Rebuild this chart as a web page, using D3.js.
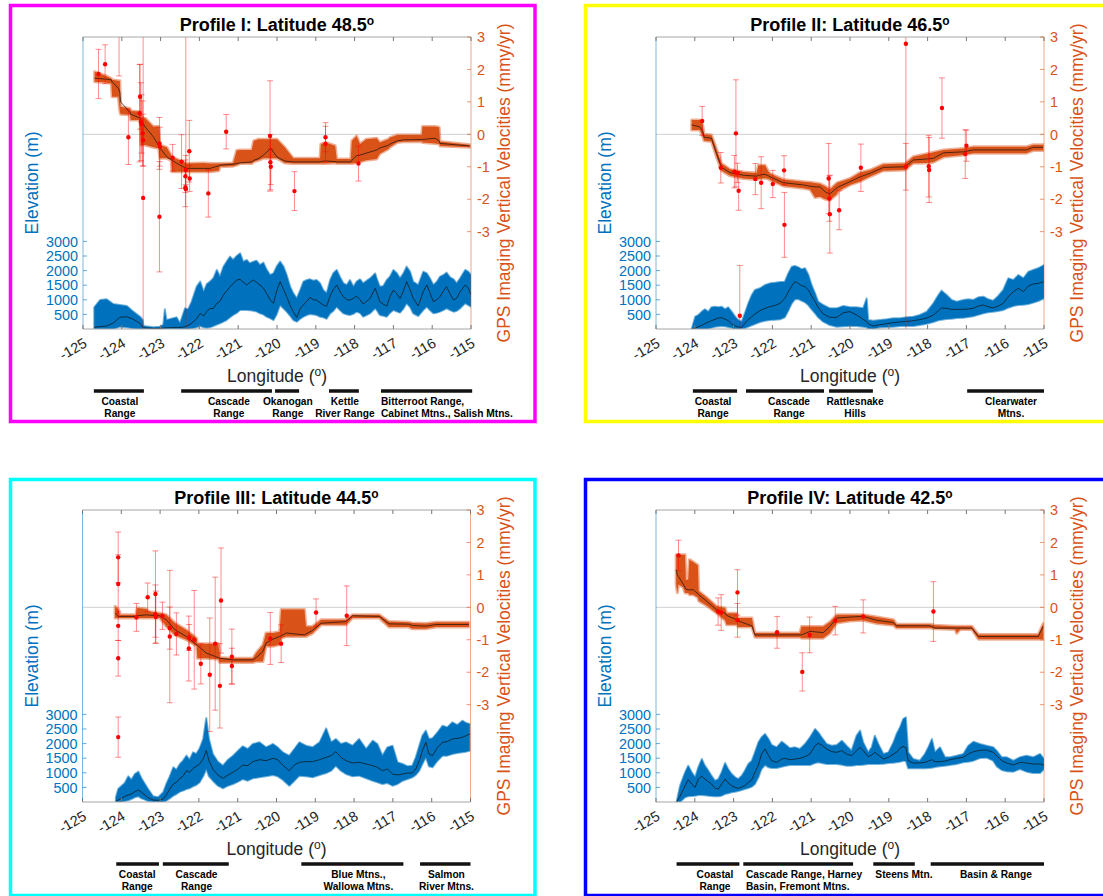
<!DOCTYPE html>
<html>
<head>
<meta charset="utf-8">
<script src="https://cdn.jsdelivr.net/npm/d3@7"></script>
<style>
  body { margin: 0; background: #fff; }
  svg text { font-family: "Liberation Sans", Arial, Helvetica, sans-serif; }
</style>
</head>
<body>
<svg id="fig" width="1103" height="896"></svg>
<script>
// ticks shared by all four profiles
const lonTicks = [-125, -124, -123, -122, -121, -120, -119, -118, -117, -116, -115];
const elevTicks = [500, 1000, 1500, 2000, 2500, 3000];
const velTicks = [-3, -2, -1, 0, 1, 2, 3];

// velocity band rows: longitude, low, mean, high (mm/yr)
const velocityI = [
  [-124.70, 1.62, 1.73, 1.93], [-124.40, 1.60, 1.70, 1.80], [-124.27, 1.56, 1.68, 1.72],
  [-124.25, 1.16, 1.62, 1.68], [-124.09, 1.16, 1.42, 1.65], [-124.05, 0.70, 1.30, 1.65],
  [-124.03, 0.62, 1.00, 0.85], [-123.79, 0.60, 0.68, 0.80], [-123.77, 0.44, 0.62, 0.72],
  [-123.53, 0.44, 0.50, 0.70], [-123.51, -0.33, 0.45, 0.52], [-123.40, -0.33, 0.23, 0.50],
  [-123.19, -0.40, -0.07, 0.24], [-123.05, -0.43, -0.35, 0.24], [-123.02, -0.74, -0.42, -0.33],
  [-122.84, -0.74, -0.69, -0.40], [-122.73, -0.80, -0.78, -0.64], [-122.71, -1.15, -0.80, -0.70],
  [-122.50, -1.15, -0.95, -0.80], [-122.33, -1.15, -1.05, -0.90], [-121.90, -1.15, -1.05, -0.88],
  [-121.73, -1.15, -1.05, -0.90], [-121.50, -1.12, -0.97, -0.90], [-121.47, -1.00, -0.95, -0.90],
  [-121.13, -0.98, -0.92, -0.88], [-121.04, -0.95, -0.90, -0.50], [-120.95, -0.90, -0.88, -0.48],
  [-120.65, -0.90, -0.85, -0.48], [-120.60, -0.85, -0.80, -0.20], [-120.48, -0.80, -0.75, -0.15],
  [-120.35, -0.74, -0.64, -0.15], [-120.16, -0.74, -0.43, -0.15], [-120.00, -0.74, -0.70, -0.15],
  [-119.80, -0.88, -0.82, -0.40], [-119.58, -0.90, -0.85, -0.74], [-118.89, -0.90, -0.85, -0.74],
  [-118.87, -0.90, -0.84, -0.30], [-118.75, -0.90, -0.82, -0.25], [-118.50, -0.88, -0.84, -0.35],
  [-118.46, -0.90, -0.85, -0.76], [-118.10, -0.90, -0.85, -0.76], [-118.07, -0.90, -0.80, -0.20],
  [-117.95, -0.88, -0.66, -0.05], [-117.86, -0.85, -0.64, -0.30], [-117.70, -0.80, -0.58, -0.15],
  [-117.43, -0.76, -0.48, -0.12], [-117.35, -0.60, -0.42, -0.25], [-117.13, -0.45, -0.34, -0.15],
  [-117.09, -0.40, -0.30, -0.10], [-116.90, -0.25, -0.20, -0.02], [-116.74, -0.23, -0.17, -0.02],
  [-116.27, -0.22, -0.16, -0.02], [-116.25, -0.25, -0.16, 0.24], [-115.93, -0.28, -0.12, 0.24],
  [-115.82, -0.30, -0.20, 0.22], [-115.80, -0.36, -0.28, -0.22], [-115.03, -0.40, -0.36, -0.32]
];
const velocityII = [
  [-124.08, 0.13, 0.29, 0.44], [-123.87, 0.13, 0.23, 0.44], [-123.80, -0.05, 0.10, 0.30],
  [-123.76, -0.20, -0.09, 0.00], [-123.57, -0.22, -0.12, -0.02], [-123.44, -0.70, -0.59, -0.45],
  [-123.31, -1.12, -1.02, -0.90], [-123.09, -1.28, -1.18, -1.08], [-122.75, -1.36, -1.26, -1.16],
  [-122.41, -1.39, -1.29, -1.19], [-122.36, -1.38, -1.26, -0.95], [-122.19, -1.35, -1.23, -0.95],
  [-122.10, -1.38, -1.28, -1.15], [-122.06, -1.41, -1.31, -1.21], [-121.72, -1.59, -1.49, -1.39],
  [-121.20, -1.66, -1.56, -1.46], [-121.03, -1.70, -1.60, -1.48], [-120.90, -1.95, -1.62, -1.50],
  [-120.77, -1.92, -1.62, -1.52], [-120.64, -2.00, -1.77, -1.60], [-120.52, -2.03, -1.84, -1.70],
  [-120.34, -1.85, -1.65, -1.50], [-120.30, -1.75, -1.62, -1.48], [-120.00, -1.56, -1.46, -1.36],
  [-119.74, -1.45, -1.31, -1.18], [-119.48, -1.30, -1.20, -1.10], [-119.14, -1.12, -1.02, -0.92],
  [-118.58, -1.10, -1.00, -0.90], [-118.37, -0.89, -0.79, -0.69], [-118.02, -0.88, -0.76, -0.60],
  [-117.85, -0.86, -0.74, -0.55], [-117.59, -0.70, -0.57, -0.48], [-117.08, -0.64, -0.54, -0.44],
  [-116.82, -0.58, -0.48, -0.38], [-115.45, -0.58, -0.48, -0.38], [-115.28, -0.50, -0.40, -0.32],
  [-115.02, -0.50, -0.40, -0.32]
];
const velocityIII = [
  [-124.16, -0.33, -0.18, 0.03], [-124.08, -0.33, -0.28, -0.05], [-124.04, -0.33, -0.28, -0.23],
  [-123.62, -0.33, -0.28, -0.23], [-123.59, -0.33, -0.26, -0.02], [-123.35, -0.33, -0.23, -0.05],
  [-123.30, -0.33, -0.24, -0.13], [-123.01, -0.33, -0.26, -0.18], [-122.84, -0.59, -0.38, -0.23],
  [-122.62, -0.85, -0.69, -0.48], [-122.32, -1.00, -0.90, -0.70], [-122.06, -1.20, -1.15, -0.95],
  [-122.04, -1.57, -1.17, -1.12], [-121.81, -1.57, -1.41, -1.12], [-121.50, -1.60, -1.55, -1.12],
  [-121.46, -1.70, -1.57, -1.55], [-121.12, -1.70, -1.62, -1.57], [-120.61, -1.70, -1.62, -1.57],
  [-120.52, -1.67, -1.55, -1.40], [-120.35, -1.67, -1.36, -1.15], [-120.27, -1.20, -1.10, -0.79],
  [-120.09, -1.20, -0.98, -0.79], [-119.92, -1.15, -0.90, -0.75], [-119.88, -0.95, -0.88, -0.07],
  [-119.75, -0.90, -0.79, -0.07], [-119.28, -0.90, -0.85, -0.07], [-119.24, -0.90, -0.82, -0.59],
  [-119.07, -0.80, -0.71, -0.59], [-118.85, -0.54, -0.49, -0.38], [-118.21, -0.54, -0.44, -0.38],
  [-118.04, -0.33, -0.26, -0.23], [-117.35, -0.33, -0.28, -0.23], [-117.10, -0.61, -0.51, -0.44],
  [-116.60, -0.61, -0.52, -0.46], [-116.50, -0.66, -0.56, -0.48], [-116.15, -0.66, -0.58, -0.50],
  [-115.89, -0.61, -0.53, -0.46], [-115.04, -0.61, -0.53, -0.46]
];
const velocityIV = [
  [-124.48, 0.70, 1.16, 1.62], [-124.45, 0.45, 1.00, 1.62], [-124.42, 0.70, 0.95, 1.62],
  [-124.30, 0.62, 0.72, 1.62], [-124.25, 0.44, 0.60, 1.62], [-124.23, 0.44, 0.56, 0.85],
  [-124.17, 0.44, 0.54, 0.85], [-124.14, 0.39, 0.54, 1.47], [-124.04, 0.39, 0.54, 1.40],
  [-123.92, 0.30, 0.42, 1.30], [-123.90, 0.20, 0.39, 0.50], [-123.69, 0.05, 0.18, 0.30],
  [-123.44, -0.18, -0.07, 0.03], [-123.22, -0.40, -0.18, -0.02], [-123.18, -0.54, -0.25, -0.18],
  [-122.92, -0.54, -0.38, -0.18], [-122.88, -0.61, -0.42, -0.33], [-122.53, -0.61, -0.57, -0.33],
  [-122.45, -0.92, -0.85, -0.79], [-121.29, -0.92, -0.85, -0.79], [-121.25, -0.95, -0.85, -0.59],
  [-121.03, -0.95, -0.74, -0.59], [-120.69, -0.95, -0.78, -0.59], [-120.52, -0.80, -0.59, -0.45],
  [-120.34, -0.48, -0.33, -0.23], [-120.00, -0.42, -0.30, -0.23], [-119.66, -0.40, -0.28, -0.23],
  [-119.31, -0.50, -0.40, -0.30], [-118.88, -0.55, -0.47, -0.38], [-118.80, -0.64, -0.57, -0.52],
  [-117.94, -0.64, -0.57, -0.52], [-117.81, -0.66, -0.64, -0.55], [-117.29, -0.68, -0.64, -0.58],
  [-117.25, -0.80, -0.64, -0.58], [-117.16, -0.68, -0.64, -0.58], [-116.86, -0.68, -0.64, -0.58],
  [-116.69, -0.98, -0.90, -0.84], [-115.15, -0.98, -0.90, -0.84], [-115.02, -0.98, -0.59, -0.50]
];

// elevation band rows: longitude, low, mean, high (m)
const elevationI = [
  [-124.71, 0, 57, 742], [-124.56, 0, 80, 993], [-124.39, 0, 103, 1016], [-124.22, 0, 205, 856],
  [-124.05, 80, 400, 822], [-123.87, 60, 422, 788], [-123.70, 20, 330, 594], [-123.53, 0, 194, 422],
  [-123.46, 0, 60, 308], [-123.44, 0, 40, 103], [-123.19, 0, 20, 57], [-123.02, 0, 20, 80],
  [-122.93, 0, 30, 150], [-122.89, 0, 40, 673], [-122.85, 0, 40, 308], [-122.59, 0, 50, 399],
  [-122.50, 0, 50, 194], [-122.37, 0, 80, 708], [-122.29, 0, 120, 673], [-122.20, 20, 200, 936],
  [-122.07, 60, 350, 1450], [-121.98, 103, 536, 1621], [-121.89, 60, 450, 1278], [-121.81, 40, 594, 1541],
  [-121.73, 60, 708, 1621], [-121.64, 103, 700, 1735], [-121.55, 150, 879, 2021], [-121.47, 194, 950, 1792],
  [-121.38, 250, 1164, 2135], [-121.30, 308, 1300, 2306], [-121.21, 400, 1450, 2477], [-121.13, 479, 1550, 2363],
  [-121.04, 550, 1678, 2500], [-120.95, 651, 1701, 2591], [-120.87, 651, 1600, 2306], [-120.78, 651, 1507, 2363],
  [-120.70, 640, 1600, 2249], [-120.61, 628, 1678, 2306], [-120.53, 600, 1600, 2340], [-120.44, 536, 1507, 2192],
  [-120.35, 500, 1400, 2272], [-120.27, 422, 1221, 2043], [-120.18, 370, 1000, 1849], [-120.09, 308, 879, 1906],
  [-120.01, 500, 1300, 2135], [-119.92, 822, 1621, 2306], [-119.83, 700, 1350, 2135], [-119.75, 594, 1107, 1849],
  [-119.66, 450, 800, 1450], [-119.58, 308, 594, 1221], [-119.49, 251, 399, 1050], [-119.40, 350, 700, 1336],
  [-119.32, 422, 822, 1621], [-119.23, 479, 950, 1678], [-119.15, 514, 1084, 1701], [-119.06, 500, 1000, 1655],
  [-118.98, 479, 993, 1678], [-118.89, 420, 900, 1564], [-118.81, 399, 822, 1336], [-118.72, 350, 780, 1221],
  [-118.63, 536, 1130, 1678], [-118.55, 620, 1350, 1906], [-118.46, 765, 1507, 2021], [-118.38, 650, 1300, 1792],
  [-118.29, 536, 1107, 1564], [-118.20, 500, 1000, 1507], [-118.12, 479, 993, 1678], [-118.03, 520, 1050, 1450],
  [-117.95, 594, 1130, 1621], [-117.86, 550, 1000, 1701], [-117.78, 422, 856, 1564], [-117.69, 480, 950, 1655],
  [-117.60, 536, 1050, 1735], [-117.47, 708, 1393, 1906], [-117.43, 650, 1250, 1735], [-117.35, 479, 936, 1450],
  [-117.26, 450, 850, 1470], [-117.17, 422, 788, 1678], [-117.09, 550, 1100, 1792], [-117.00, 651, 1336, 2021],
  [-116.91, 600, 1200, 1906], [-116.83, 560, 1050, 1735], [-116.74, 700, 1300, 1906], [-116.66, 879, 1621, 2135],
  [-116.57, 750, 1350, 1963], [-116.49, 536, 1050, 1621], [-116.36, 445, 788, 1507], [-116.23, 651, 1278, 1963],
  [-116.14, 765, 1507, 1906], [-116.06, 650, 1250, 1735], [-115.97, 536, 936, 1507], [-115.88, 560, 1000, 1621],
  [-115.80, 594, 1107, 1792], [-115.71, 650, 1300, 1849], [-115.63, 708, 1450, 1929], [-115.54, 650, 1200, 1769],
  [-115.45, 594, 993, 1701], [-115.37, 620, 1050, 1564], [-115.28, 708, 1278, 1735], [-115.15, 879, 1507, 2021],
  [-115.07, 820, 1400, 1963], [-115.00, 765, 1164, 1849]
];
const elevationII = [
  [-124.08, 0, 0, 0], [-123.99, 0, 23, 422], [-123.91, 0, 80, 479], [-123.82, 0, 125, 594],
  [-123.74, 0, 183, 673], [-123.65, 11, 240, 594], [-123.57, 46, 285, 742], [-123.48, 80, 331, 765],
  [-123.39, 91, 376, 742], [-123.31, 103, 388, 765], [-123.22, 91, 342, 673], [-123.14, 68, 285, 742],
  [-123.05, 46, 171, 594], [-122.96, 11, 103, 422], [-122.88, 0, 68, 308], [-122.79, 11, 57, 251],
  [-122.71, 34, 194, 536], [-122.62, 80, 331, 879], [-122.53, 125, 422, 1164], [-122.45, 171, 514, 1336],
  [-122.32, 240, 628, 1393], [-122.19, 285, 708, 1507], [-122.06, 308, 765, 1564], [-121.93, 320, 810, 1587],
  [-121.80, 331, 879, 1610], [-121.68, 399, 1050, 1621], [-121.59, 628, 1278, 1906], [-121.50, 879, 1473, 2135],
  [-121.42, 1016, 1621, 2158], [-121.33, 1027, 1564, 2112], [-121.25, 970, 1484, 2043], [-121.16, 913, 1450, 2078],
  [-121.07, 810, 1336, 1849], [-120.99, 673, 1130, 1507], [-120.90, 536, 936, 1221], [-120.82, 399, 742, 936],
  [-120.69, 251, 514, 822], [-120.52, 137, 399, 708], [-120.34, 80, 399, 708], [-120.17, 91, 559, 788],
  [-120.00, 103, 594, 742], [-119.83, 103, 479, 742], [-119.66, 80, 331, 708], [-119.57, 57, 251, 1050],
  [-119.53, 11, 171, 308], [-119.40, 0, 103, 285], [-119.23, 57, 148, 308], [-119.05, 68, 183, 331],
  [-118.88, 80, 217, 365], [-118.71, 103, 240, 365], [-118.54, 103, 262, 399], [-118.37, 103, 285, 422],
  [-118.20, 137, 320, 479], [-118.02, 183, 376, 594], [-117.85, 240, 479, 879], [-117.72, 297, 628, 1164],
  [-117.64, 320, 719, 1313], [-117.51, 342, 708, 1164], [-117.38, 354, 673, 993], [-117.25, 376, 673, 936],
  [-117.08, 388, 673, 993], [-116.95, 411, 685, 1016], [-116.82, 434, 708, 993], [-116.69, 491, 788, 1084],
  [-116.56, 536, 822, 1107], [-116.44, 571, 765, 1016], [-116.31, 594, 719, 970], [-116.18, 616, 788, 1130],
  [-116.05, 651, 879, 1336], [-115.92, 730, 1107, 1735], [-115.79, 788, 1278, 1678], [-115.66, 822, 1393, 1849],
  [-115.53, 833, 1278, 1735], [-115.40, 856, 1473, 1963], [-115.28, 902, 1541, 2021], [-115.15, 959, 1564, 2078],
  [-115.00, 1050, 1621, 2192]
];
const elevationIII = [
  [-124.14, 0, 34, 160], [-124.08, 0, 68, 445], [-123.99, 0, 125, 559], [-123.91, 34, 194, 650],
  [-123.82, 57, 240, 879], [-123.74, 102, 274, 765], [-123.65, 160, 354, 959], [-123.56, 194, 411, 1039],
  [-123.48, 125, 331, 810], [-123.39, 80, 240, 616], [-123.31, 34, 148, 445], [-123.18, 0, 68, 194],
  [-123.05, 0, 57, 160], [-122.92, 0, 102, 331], [-122.84, 45, 240, 616], [-122.75, 125, 445, 879],
  [-122.66, 217, 616, 1187], [-122.58, 274, 673, 1107], [-122.49, 354, 810, 1301], [-122.41, 388, 879, 1415],
  [-122.32, 445, 1073, 1587], [-122.24, 468, 1016, 1450], [-122.15, 536, 1153, 1701], [-122.07, 582, 1221, 1644],
  [-121.98, 673, 1301, 1838], [-121.89, 879, 1472, 2157], [-121.81, 1130, 1758, 2877], [-121.74, 879, 1415, 2157],
  [-121.64, 730, 1130, 1644], [-121.51, 559, 925, 1381], [-121.38, 468, 810, 1244], [-121.25, 559, 925, 1450],
  [-121.12, 616, 1016, 1587], [-120.99, 696, 1130, 1758], [-120.87, 787, 1267, 1906], [-120.74, 730, 1244, 1815],
  [-120.61, 810, 1381, 1986], [-120.44, 845, 1450, 2043], [-120.27, 879, 1415, 1872], [-120.09, 925, 1495, 1986],
  [-119.97, 879, 1450, 1872], [-119.84, 765, 1267, 1701], [-119.67, 559, 1073, 1587], [-119.54, 730, 1267, 1815],
  [-119.41, 902, 1358, 2043], [-119.24, 879, 1381, 1929], [-119.07, 845, 1381, 1872], [-118.89, 925, 1450, 2043],
  [-118.72, 993, 1530, 2523], [-118.59, 1073, 1587, 2043], [-118.47, 1244, 1724, 2157], [-118.34, 1073, 1530, 1986],
  [-118.21, 959, 1415, 2043], [-118.04, 879, 1335, 1929], [-117.87, 902, 1358, 2157], [-117.69, 810, 1301, 1815],
  [-117.52, 730, 1244, 2100], [-117.40, 673, 1187, 1986], [-117.27, 616, 1073, 1587], [-117.14, 650, 1130, 1872],
  [-117.01, 559, 959, 1929], [-116.88, 616, 925, 1358], [-116.75, 730, 959, 1301], [-116.62, 787, 993, 1221],
  [-116.50, 845, 993, 1244], [-116.41, 925, 1130, 1530], [-116.32, 1073, 1415, 1929], [-116.24, 1301, 1758, 2272],
  [-116.15, 1530, 2043, 2443], [-116.07, 1221, 1644, 2157], [-115.98, 1187, 1587, 2180], [-115.85, 1415, 1872, 2386],
  [-115.72, 1587, 2043, 2614], [-115.60, 1587, 2066, 2557], [-115.47, 1644, 2157, 2728], [-115.34, 1678, 2180, 2637],
  [-115.21, 1701, 2215, 2785], [-115.11, 1724, 2272, 2706], [-115.02, 1758, 2329, 2671]
];
const elevationIV = [
  [-124.47, 0, 0, 0], [-124.38, 0, 194, 559], [-124.25, 160, 559, 1016], [-124.17, 194, 765, 1244],
  [-124.08, 205, 616, 1016], [-123.99, 217, 502, 845], [-123.91, 240, 787, 1187], [-123.82, 240, 879, 1472],
  [-123.74, 228, 787, 1244], [-123.65, 217, 696, 1073], [-123.57, 205, 616, 902], [-123.48, 194, 468, 730],
  [-123.39, 194, 445, 787], [-123.31, 217, 616, 1016], [-123.22, 274, 787, 1335], [-123.14, 297, 650, 1130],
  [-123.05, 331, 559, 959], [-122.96, 354, 502, 845], [-122.88, 377, 468, 787], [-122.79, 411, 514, 902],
  [-122.71, 445, 559, 1073], [-122.62, 479, 673, 1301], [-122.53, 525, 765, 1415], [-122.45, 616, 1016, 1701],
  [-122.36, 845, 1267, 2043], [-122.28, 1130, 1644, 2215], [-122.19, 1267, 1815, 2329], [-122.10, 1187, 1587, 2157],
  [-122.02, 1164, 1415, 1952], [-121.89, 1164, 1358, 1872], [-121.76, 1210, 1472, 2066], [-121.68, 1233, 1495, 1986],
  [-121.55, 1267, 1450, 1838], [-121.42, 1267, 1472, 1872], [-121.29, 1267, 1495, 1815], [-121.16, 1267, 1552, 1986],
  [-121.03, 1267, 1644, 2215], [-120.90, 1335, 1929, 2500], [-120.82, 1358, 2009, 2386], [-120.73, 1335, 1952, 2215],
  [-120.60, 1301, 1815, 1986], [-120.47, 1301, 1724, 1929], [-120.34, 1301, 1701, 1952], [-120.21, 1278, 1758, 2100],
  [-120.09, 1244, 1644, 1929], [-119.96, 1244, 1587, 1758], [-119.83, 1267, 1758, 2272], [-119.74, 1267, 1872, 2443],
  [-119.66, 1278, 1758, 2043], [-119.53, 1301, 1552, 1701], [-119.44, 1301, 1610, 1872], [-119.36, 1301, 1701, 2272],
  [-119.27, 1301, 1610, 1986], [-119.14, 1312, 1472, 1644], [-119.01, 1335, 1530, 1701], [-118.88, 1347, 1644, 2043],
  [-118.80, 1358, 1701, 2329], [-118.71, 1381, 1838, 2557], [-118.63, 1415, 1906, 2842], [-118.56, 1404, 1861, 2900],
  [-118.50, 1153, 1415, 1701], [-118.37, 1153, 1335, 1472], [-118.20, 1153, 1335, 1415], [-118.07, 1153, 1358, 1644],
  [-117.98, 1164, 1404, 1872], [-117.89, 1176, 1450, 2157], [-117.81, 1199, 1381, 1701], [-117.68, 1221, 1381, 1872],
  [-117.55, 1244, 1404, 1530], [-117.42, 1267, 1450, 1530], [-117.25, 1301, 1495, 1587], [-117.08, 1358, 1530, 1644],
  [-116.95, 1381, 1644, 1929], [-116.82, 1415, 1724, 2066], [-116.65, 1507, 1769, 1986], [-116.48, 1518, 1781, 1929],
  [-116.31, 1415, 1701, 1872], [-116.22, 1221, 1587, 1758], [-116.09, 1096, 1415, 1530], [-115.96, 1050, 1335, 1530],
  [-115.79, 1039, 1267, 1415], [-115.62, 1130, 1358, 1530], [-115.45, 1039, 1335, 1587], [-115.28, 993, 1301, 1530],
  [-115.10, 993, 1301, 1644], [-115.00, 1130, 1267, 1472]
];

// GPS stations: longitude, vertical velocity, error (mm/yr)
const gpsI = [
  [-124.60, 1.86, 0.76], [-124.43, 2.16, 0.60], [-124.07, 3.30, 1.50], [-123.83, -0.09, 0.84],
  [-123.53, 1.16, 1.00], [-123.54, 0.65, 1.50], [-123.51, 0.39, 1.20], [-123.49, 0.32, 0.90],
  [-123.46, 0.03, 1.00], [-123.45, -0.18, 0.80], [-123.45, -1.96, 5.20],
  [-123.03, -0.28, 0.80], [-123.02, -0.38, 0.60], [-123.03, -2.54, 1.70],
  [-122.69, -0.72, 0.41], [-122.46, -0.84, 0.83],
  [-122.36, -1.29, 0.50], [-122.36, -1.63, 0.60], [-122.35, -1.69, 5.00], [-122.35, -1.10, 0.45],
  [-122.26, -0.52, 0.95], [-122.25, -1.36, 0.40],
  [-121.77, -1.82, 0.73], [-121.31, 0.08, 0.53],
  [-120.18, -0.05, 1.70], [-120.17, -0.86, 0.85], [-120.16, -1.00, 0.55],
  [-119.55, -1.75, 0.60], [-118.75, -0.09, 0.45], [-118.75, -0.30, 0.55], [-117.90, -0.90, 0.54]
];
const gpsII = [
  [-123.81, 0.41, 0.45], [-123.33, -1.03, 0.47], [-122.94, 0.03, 1.65], [-122.98, -1.15, 0.50],
  [-122.90, -1.19, 0.30], [-122.87, -1.74, 0.60], [-122.84, -5.59, 1.55], [-122.44, -1.38, 0.48],
  [-122.29, -1.49, 0.80], [-121.99, -1.53, 0.42], [-121.70, -1.11, 0.45], [-121.69, -2.79, 1.00],
  [-120.55, -1.36, 1.08], [-120.53, -1.98, 0.70], [-120.52, -2.46, 1.20], [-120.28, -2.34, 0.60],
  [-119.72, -1.03, 0.73], [-118.56, 2.79, 9.00], [-118.56, -1.00, 0.72], [-117.97, -0.98, 0.95],
  [-117.96, -1.10, 1.00], [-117.63, 0.81, 0.93], [-117.00, -0.35, 0.48], [-117.03, -0.61, 0.75]
];
const gpsIII = [
  [-124.08, 1.54, 0.78], [-124.08, 0.72, 0.90], [-124.08, -0.57, 0.45], [-124.08, -1.57, 0.55],
  [-124.08, -4.00, 0.62], [-123.61, -0.31, 0.43], [-123.32, 0.31, 0.44], [-123.12, 0.41, 1.33],
  [-123.12, -0.21, 0.90], [-123.11, -0.30, 0.80], [-122.94, -0.26, 0.42], [-122.75, -0.64, 0.65],
  [-122.75, -0.90, 2.04], [-122.58, -0.82, 0.65], [-122.25, -0.93, 0.40], [-122.26, -1.27, 1.00],
  [-122.12, -1.00, 1.52], [-121.95, -1.74, 0.62], [-121.72, -2.08, 1.75], [-121.58, -1.12, 2.05],
  [-121.46, -2.42, 1.30], [-121.43, 0.21, 1.62], [-121.15, -1.52, 0.85], [-121.15, -1.81, 0.55],
  [-120.16, -0.96, 0.80], [-119.88, -1.12, 0.58], [-118.98, -0.16, 0.42], [-118.19, -0.26, 0.92]
];
const gpsIV = [
  [-124.42, 1.60, 0.47], [-123.40, -0.13, 0.42], [-123.32, -0.16, 0.55], [-122.90, 0.46, 0.70],
  [-122.90, -0.40, 0.52], [-121.88, -0.77, 0.49], [-121.23, -1.99, 0.59], [-121.04, -0.85, 0.55],
  [-120.38, -0.41, 0.44], [-119.66, -0.28, 0.51], [-117.85, -0.13, 0.92]
];

// mountain ranges under each profile (longitudes)
const rangesI = [
  { from: -124.72, to: -123.43, at: -124.05, align: 'middle', lines: ['Coastal', 'Range'] },
  { from: -122.47, to: -120.13, at: -121.24, align: 'middle', lines: ['Cascade', 'Range'] },
  { from: -120.05, to: -119.43, at: -119.72, align: 'middle', lines: ['Okanogan', 'Range'] },
  { from: -118.66, to: -117.89, at: -118.25, align: 'middle', lines: ['Kettle', 'River Range'] },
  { from: -117.32, to: -114.97, at: -117.32, align: 'start', lines: ['Bitterroot Range,', 'Cabinet Mtns., Salish Mtns.'] }
];
const rangesII = [
  { from: -124.05, to: -122.91, at: -123.53, align: 'middle', lines: ['Coastal', 'Range'] },
  { from: -122.68, to: -120.67, at: -121.57, align: 'middle', lines: ['Cascade', 'Range'] },
  { from: -120.54, to: -119.41, at: -119.87, align: 'middle', lines: ['Rattlesnake', 'Hills'] },
  { from: -116.98, to: -115.00, at: -115.85, align: 'middle', lines: ['Clearwater', 'Mtns.'] }
];
const rangesIII = [
  { from: -124.13, to: -123.03, at: -123.59, align: 'middle', lines: ['Coastal', 'Range'] },
  { from: -122.93, to: -121.23, at: -122.06, align: 'middle', lines: ['Cascade', 'Range'] },
  { from: -119.36, to: -116.73, at: -117.89, align: 'middle', lines: ['Blue Mtns.,', 'Wallowa Mtns.'] },
  { from: -116.30, to: -115.00, at: -115.62, align: 'middle', lines: ['Salmon', 'River Mtns.'] }
];
const rangesIV = [
  { from: -124.47, to: -122.85, at: -123.48, align: 'middle', lines: ['Coastal', 'Range'] },
  { from: -122.75, to: -119.92, at: -122.68, align: 'start', lines: ['Cascade Range, Harney', 'Basin, Fremont Mtns.'] },
  { from: -119.40, to: -118.33, at: -118.61, align: 'middle', lines: ['Steens Mtn.'] },
  { from: -117.92, to: -115.00, at: -116.24, align: 'middle', lines: ['Basin & Range'] }
];

const W = 388, H = 292;
const BLUE = '#0072BD', ORANGE = '#D95319';

const panels = [
  { num: 'I', lat: '48.5', frame: '#ff00ff', box: [10.5, 5.5, 524.5, 416], left: 83, top: 37,
    velocity: velocityI, elevation: elevationI, gps: gpsI, ranges: rangesI },
  { num: 'II', lat: '46.5', frame: '#ffff00', box: [585.5, 5.5, 530, 416], left: 656, top: 37,
    velocity: velocityII, elevation: elevationII, gps: gpsII, ranges: rangesII },
  { num: 'III', lat: '44.5', frame: '#00ffff', box: [10.5, 479.5, 524.5, 416], left: 82.5, top: 510,
    velocity: velocityIII, elevation: elevationIII, gps: gpsIII, ranges: rangesIII },
  { num: 'IV', lat: '42.5', frame: '#0000ff', box: [585.5, 479.5, 530, 416], left: 656, top: 510,
    velocity: velocityIV, elevation: elevationIV, gps: gpsIV, ranges: rangesIV }
];

const svg = d3.select('#fig');

function drawPanel(p, i) {
  const x = d3.scaleLinear().domain([-125, -115]).range([p.left, p.left + W]);
  const yV = d3.scaleLinear().domain([-6, 3]).range([p.top + H, p.top]);
  const yE = d3.scaleLinear().domain([0, 10000]).range([p.top + H, p.top]);
  const g = svg.append('g');

  // coloured frame round the whole panel
  g.append('rect')
    .attr('x', p.box[0]).attr('y', p.box[1])
    .attr('width', p.box[2]).attr('height', p.box[3])
    .attr('fill', 'none').attr('stroke', p.frame).attr('stroke-width', 3.5);

  const clipId = 'clip' + i;
  g.append('clipPath').attr('id', clipId)
    .append('rect').attr('x', p.left).attr('y', p.top).attr('width', W).attr('height', H);
  const plot = g.append('g').attr('clip-path', `url(#${clipId})`);

  // zero line
  plot.append('line')
    .attr('x1', p.left).attr('x2', p.left + W)
    .attr('y1', yV(0)).attr('y2', yV(0))
    .attr('stroke', '#d9d9d9').attr('stroke-width', 1.2);

  // elevation band + mean
  const elevArea = d3.area().x(d => x(d[0])).y0(d => yE(d[1])).y1(d => yE(d[3]));
  plot.append('path').datum(p.elevation)
    .attr('d', elevArea)
    .attr('fill', BLUE).attr('stroke', BLUE).attr('stroke-opacity', 0.55)
    .attr('stroke-width', 2).attr('stroke-linejoin', 'round');
  plot.append('path').datum(p.elevation)
    .attr('d', d3.line().x(d => x(d[0])).y(d => yE(d[2])))
    .attr('fill', 'none').attr('stroke', '#111').attr('stroke-width', 0.7);

  // velocity band + mean
  const velArea = d3.area().x(d => x(d[0])).y0(d => yV(d[1])).y1(d => yV(d[3]));
  plot.append('path').datum(p.velocity)
    .attr('d', velArea)
    .attr('fill', ORANGE).attr('stroke', ORANGE).attr('stroke-opacity', 0.45)
    .attr('stroke-width', 3).attr('stroke-linejoin', 'round');
  plot.append('path').datum(p.velocity)
    .attr('d', d3.line().x(d => x(d[0])).y(d => yV(d[2])))
    .attr('fill', 'none').attr('stroke', '#111').attr('stroke-width', 0.7);

  // GPS stations with error bars
  const bars = plot.append('g').attr('stroke', 'rgba(255,0,0,0.45)').attr('stroke-width', 1);
  p.gps.forEach(d => {
    const cx = x(d[0]);
    const t = yV(d[1] + d[2]), b = yV(d[1] - d[2]);
    bars.append('line').attr('x1', cx).attr('x2', cx).attr('y1', t).attr('y2', b);
    bars.append('line').attr('x1', cx - 3).attr('x2', cx + 3).attr('y1', t).attr('y2', t);
    bars.append('line').attr('x1', cx - 3).attr('x2', cx + 3).attr('y1', b).attr('y2', b);
  });
  plot.append('g').selectAll('circle').data(p.gps).join('circle')
    .attr('cx', d => x(d[0])).attr('cy', d => yV(d[1])).attr('r', 2.2)
    .attr('fill', '#ff0000');

  // axes box
  const xl = p.left, xr = p.left + W, yt = p.top, yb = p.top + H;
  g.append('line').attr('x1', xl).attr('x2', xr).attr('y1', yt).attr('y2', yt)
    .attr('stroke', '#a6a6a6').attr('stroke-width', 1);
  g.append('line').attr('x1', xl).attr('x2', xr).attr('y1', yb).attr('y2', yb)
    .attr('stroke', '#a6a6a6').attr('stroke-width', 1);
  g.append('line').attr('x1', xl).attr('x2', xl).attr('y1', yt).attr('y2', yb)
    .attr('stroke', BLUE).attr('stroke-opacity', 0.5).attr('stroke-width', 1);
  g.append('line').attr('x1', xr).attr('x2', xr).attr('y1', yt).attr('y2', yb)
    .attr('stroke', ORANGE).attr('stroke-opacity', 0.5).attr('stroke-width', 1);

  // x ticks top and bottom, pointing inwards
  lonTicks.forEach(t => {
    const tx = x(t);
    g.append('line').attr('x1', tx).attr('x2', tx).attr('y1', yt).attr('y2', yt + 4)
      .attr('stroke', '#777').attr('stroke-width', 1);
    g.append('line').attr('x1', tx).attr('x2', tx).attr('y1', yb).attr('y2', yb - 4)
      .attr('stroke', '#777').attr('stroke-width', 1);
    g.append('text')
      .attr('transform', `translate(${tx + 5},${yb + 17}) rotate(-30)`)
      .attr('text-anchor', 'end')
      .attr('font-size', 14.4).attr('fill', '#262626')
      .text(t);
  });

  // left axis: elevation
  elevTicks.forEach(t => {
    g.append('line').attr('x1', xl).attr('x2', xl + 4).attr('y1', yE(t)).attr('y2', yE(t))
      .attr('stroke', BLUE).attr('stroke-opacity', 0.6);
    g.append('text').attr('x', xl - 5).attr('y', yE(t)).attr('dy', '0.36em')
      .attr('text-anchor', 'end').attr('font-size', 14.4).attr('fill', BLUE).text(t);
  });
  // right axis: velocity
  velTicks.forEach(t => {
    g.append('line').attr('x1', xr).attr('x2', xr - 4).attr('y1', yV(t)).attr('y2', yV(t))
      .attr('stroke', ORANGE).attr('stroke-opacity', 0.6);
    g.append('text').attr('x', xr + 6).attr('y', yV(t)).attr('dy', '0.36em')
      .attr('text-anchor', 'start').attr('font-size', 14.4).attr('fill', ORANGE).text(t);
  });

  const midY = (yt + yb) / 2, midX = (xl + xr) / 2;
  g.append('text')
    .attr('transform', `translate(${xl - 45},${midY}) rotate(-90)`)
    .attr('text-anchor', 'middle').attr('font-size', 17.5).attr('fill', BLUE)
    .text('Elevation (m)');
  g.append('text')
    .attr('transform', `translate(${xr + 39},${midY}) rotate(-90)`)
    .attr('text-anchor', 'middle').attr('font-size', 17.5).attr('fill', ORANGE)
    .text('GPS Imaging Vertical Velocities (mmy/yr)');

  // x label
  const xlab = g.append('text').attr('x', midX).attr('y', yb + 53)
    .attr('text-anchor', 'middle').attr('font-size', 17.5).attr('fill', '#262626');
  xlab.append('tspan').text('Longitude (');
  xlab.append('tspan').attr('dy', -6).attr('font-size', 12).text('o');
  xlab.append('tspan').attr('dy', 6).text(')');

  // title
  const title = g.append('text').attr('x', midX).attr('y', yt - 6.5)
    .attr('text-anchor', 'middle').attr('font-size', 18).attr('font-weight', 'bold').attr('fill', '#000');
  title.append('tspan').text(`Profile ${p.num}: Latitude ${p.lat}`);
  title.append('tspan').attr('dy', -6).attr('font-size', 12).text('o');

  // mountain ranges
  p.ranges.forEach(r => {
    g.append('line')
      .attr('x1', x(r.from)).attr('x2', x(r.to))
      .attr('y1', yb + 62).attr('y2', yb + 62)
      .attr('stroke', '#111').attr('stroke-width', 3.5);
    r.lines.forEach((ln, k) => {
      g.append('text')
        .attr('x', x(r.at)).attr('y', yb + 76 + k * 11.8)
        .attr('text-anchor', r.align)
        .attr('font-size', 10.2).attr('font-weight', 'bold').attr('fill', '#000')
        .text(ln);
    });
  });
}

panels.forEach(drawPanel);
</script>
</body>
</html>
